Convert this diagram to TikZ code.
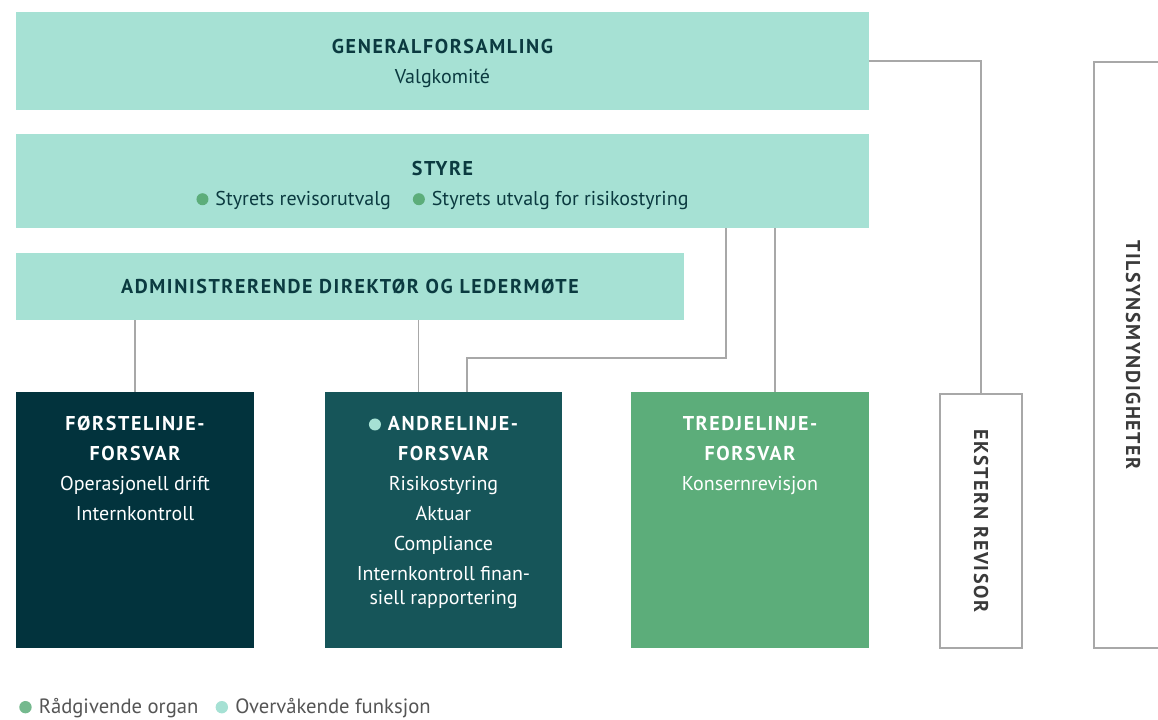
\documentclass[tikz,border=0pt]{standalone}
\usepackage{fontspec}
\setmainfont{PT Sans}
\newfontfamily\capsfont[LetterSpace=8]{PT Sans}
\usetikzlibrary{positioning,fit}

\definecolor{mint}{HTML}{A6E1D4}
\definecolor{navy}{HTML}{02333D}
\definecolor{petrol}{HTML}{165559}
\definecolor{leaf}{HTML}{5CAD7A}
\definecolor{rule}{HTML}{A8A8A8}
\definecolor{ink}{HTML}{0B3A40}
\definecolor{greytext}{HTML}{555555}
\definecolor{sidetext}{HTML}{3A3A3A}

% bold spaced caps for headings, coloured bullet
\newcommand{\ttl}[1]{{\capsfont\bfseries #1}}
\newcommand{\dotmark}[1]{\tikz[baseline]\fill[#1] (0,0.3em) circle (0.3em);\hspace{0.35em}}

\tikzset{
  panel/.style={inner sep=0pt, outer sep=0pt},
  boxtext/.style={inner sep=0pt, align=center, font=\fontsize{15}{22.5}\selectfont},
  conn/.style={draw=rule, line width=0.8pt},
  sidebox/.style={draw=rule, line width=0.8pt, fill=white, inner sep=0pt},
  sidelabel/.style={rotate=-90, inner sep=0pt, text=sidetext, font=\fontsize{15}{16}\selectfont\capsfont\bfseries},
}

\begin{document}
\begin{tikzpicture}[x=0.75pt,y=-0.75pt]
\useasboundingbox (0,0) rectangle (1158,720);

% governing bodies
\node[panel, fill=mint, fit={(16,12) (869,110)}] (genf) {};
\node[panel, fill=mint, fit={(16,134) (869,228)}] (styre) {};
\node[panel, fill=mint, fit={(16,253) (684,320)}] (adm) {};

% three lines of defence
\node[panel, fill=navy, fit={(16,392) (254,648)}] (first) {};
\node[panel, fill=petrol, fit={(325,392) (562,648)}] (second) {};
\node[panel, fill=leaf, fit={(631,392) (869,648)}] (third) {};

% external parties
\node[sidebox, fit={(940,394) (1022,648)}] (ekst) {};
\coordinate (tilsynTL) at (1094,62);
\coordinate (tilsynBL) at (1094,648);
\draw[conn] (1160,62) -- (tilsynTL) -- (tilsynBL) -- (1160,648);

% texts
\node[boxtext, text=ink, below=20pt of genf.north] (genftxt)
  {\ttl{GENERALFORSAMLING}\\Valgkomité};
\node[boxtext, text=ink, below=20pt of styre.north] (styretxt)
  {\ttl{STYRE}\\\dotmark{leaf}Styrets revisorutvalg\hspace{1.1em}\dotmark{leaf}Styrets utvalg for risikostyring};
\node[boxtext, text=ink] (admtxt) at (adm.center)
  {\ttl{ADMINISTRERENDE DIREKTØR OG LEDERMØTE}};

\node[boxtext, text=white, below=18pt of first.north] (firsttxt)
  {\ttl{FØRSTELINJE-}\\\ttl{FORSVAR}\\Operasjonell drift\\Internkontroll};
\node[boxtext, text=white, below=18pt of second.north] (secondtxt)
  {\ttl{\dotmark{mint}ANDRELINJE-}\\\ttl{FORSVAR}\\Risikostyring\\Aktuar\\Compliance\\Internkontroll finan-\\[-4.5pt]siell rapportering};
\node[boxtext, text=white, below=18pt of third.north] (thirdtxt)
  {\ttl{TREDJELINJE-}\\\ttl{FORSVAR}\\Konsernrevisjon};

\node[sidelabel] (eksttxt) at (ekst.center) {EKSTERN REVISOR};
\node[sidelabel] (tilsyntxt) at (1133,355) {TILSYNSMYNDIGHETER};

% reporting lines
\draw[conn] (genf.east) -| (ekst.north);
\draw[conn] (first.north) -- (first.north |- adm.south);
\coordinate (s2a) at ([xshift=-19pt]second.north);
\draw[conn] (s2a) -- (s2a |- adm.south);
\coordinate (s2b) at ([xshift=17.6pt]second.north);
\coordinate (kink) at (726,358);
\draw[conn] (styre.south -| kink) -- (kink) -| (s2b);
\coordinate (s3) at ([xshift=18.75pt]third.north);
\draw[conn] (s3) -- (s3 |- styre.south);

% legend
\node[boxtext, anchor=west, text=greytext, font=\fontsize{15.5}{20}\selectfont] (leg1) at (19,708)
  {\dotmark{leaf!85}Rådgivende organ};
\node[boxtext, right=12.5pt of leg1, text=greytext, font=\fontsize{15.5}{20}\selectfont] (leg2)
  {\dotmark{mint}Overvåkende funksjon};
\end{tikzpicture}
\end{document}
